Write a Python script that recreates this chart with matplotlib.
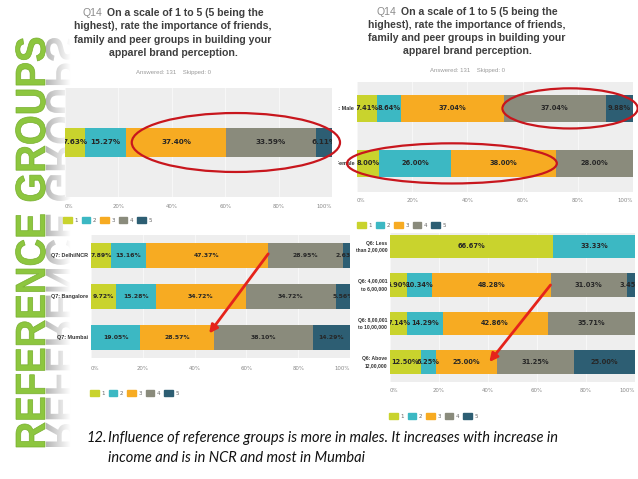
import numpy as np
import matplotlib
matplotlib.use('Agg')
import matplotlib.pyplot as plt
from matplotlib.patches import Ellipse, PathPatch, Rectangle
from matplotlib.textpath import TextPath
from matplotlib.font_manager import FontProperties
from matplotlib.transforms import Affine2D, Bbox, TransformedBbox

W, H = 638, 479

# answer levels and their colours
levels = ['1', '2', '3', '4', '5']
colors = ['#C9D32D', '#3CB8C3', '#F7AB22', '#8A8B7C', '#2D5E73']

# overall answers
overall_rows = ['']
overall_values = [[7.63, 15.27, 37.40, 33.59, 6.11]]

# by gender
gender_rows = ['Q1: Male', 'Q1: Female']
gender_values = [[7.41, 8.64, 37.04, 37.04, 9.88],
                 [8.00, 26.00, 38.00, 28.00, 0]]

# by city
city_rows = ['Q7: Delhi/NCR', 'Q7: Bangalore', 'Q7: Mumbai']
city_values = [[7.89, 13.16, 47.37, 28.95, 2.63],
               [9.72, 15.28, 34.72, 34.72, 5.56],
               [0, 19.05, 28.57, 38.10, 14.29]]

# by income
income_rows = ['Q6: Less\nthan 2,00,000', 'Q6: 4,00,001\nto 6,00,000',
               'Q6: 8,00,001\nto 10,00,000', 'Q6: Above\n12,00,000']
income_values = [[66.67, 33.33, 0, 0, 0],
                 [6.90, 10.34, 48.28, 31.03, 3.45],
                 [7.14, 14.29, 42.86, 35.71, 0],
                 [12.50, 6.25, 25.00, 31.25, 25.00]]

ticks = [0, 20, 40, 60, 80, 100]
question = 'Q14'
title_lines = ['On a scale of 1 to 5 (5 being the',
               'highest), rate the importance of friends,',
               'family and peer groups in building your',
               'apparel brand perception.']
answered = 'Answered: 131    Skipped: 0'
side_title = 'REFERENCE GROUPS'
caption_num = '12.'
caption_lines = ['Influence of reference groups is more in males. It increases with increase in',
                 'income and is in NCR and most in Mumbai']

ring = '#C8161D'
arrow_red = '#E5231B'

fig = plt.figure(figsize=(W / 100, H / 100), dpi=100)
renderer = fig.canvas.get_renderer()


def box(x0, y0, x1, y1):
    return [x0 / W, 1 - y1 / H, (x1 - x0) / W, (y1 - y0) / H]


# pixel-space layers: one under the charts, one over them
under = fig.add_axes([0, 0, 1, 1], zorder=-1)
over = fig.add_axes([0, 0, 1, 1], zorder=10)
for a in (under, over):
    a.set_xlim(0, W)
    a.set_ylim(H, 0)
    a.axis('off')
    a.patch.set_alpha(0)


def panel(rect, rows, values, bar_h, ylim, val_fs, row_fs, pad, row_clip=None):
    ax = fig.add_axes(box(*rect))
    ax.set_facecolor('#EEEEEE')
    vals = np.array(values, dtype=float)
    pos = np.arange(len(rows))
    left = np.zeros(len(rows))
    for k in range(len(levels)):
        ax.barh(pos, vals[:, k], left=left, height=bar_h, color=colors[k], zorder=2)
        for i in pos:
            v = vals[i, k]
            if v > 0:
                ax.text(left[i] + v / 2, i, f'{v:.2f}%', ha='center', va='center',
                        fontsize=val_fs, fontweight='bold', color='#262626',
                        zorder=3, clip_on=True, clip_box=ax.bbox)
        left += vals[:, k]
    ax.set_xlim(0, 100)
    ax.set_ylim(*ylim)
    ax.set_yticks([])
    ax.set_xticks(ticks, [f'{t}%' for t in ticks])
    ax.tick_params(length=0, pad=pad, labelsize=3.9, labelcolor='#888888')
    tl = ax.get_xticklabels()
    tl[0].set_ha('left')
    tl[-1].set_ha('right')
    ax.grid(axis='x', color='#F7F7F7', lw=0.8)
    ax.set_axisbelow(True)
    for s in ax.spines.values():
        s.set_visible(False)
    for i, name in zip(pos, rows):
        t = ax.annotate(name, xy=(0, i), xycoords=ax.get_yaxis_transform(),
                        xytext=(-2, 0), textcoords='offset points', ha='right',
                        va='center', fontsize=row_fs, fontweight='bold',
                        color='#333333', family='Liberation Sans', linespacing=1.4)
        if row_clip is not None:
            t.set_clip_on(True)
            t.set_clip_box(row_clip)
    return ax, np.cumsum(vals, axis=1)


def legend(ax, x, y):
    handles = [Rectangle((0, 0), 1, 1, color=c) for c in colors]
    ax.legend(handles, levels, loc='center left', bbox_to_anchor=(x, y),
              bbox_transform=over.transData, ncol=5, frameon=False, fontsize=4,
              labelcolor='#666666', handlelength=1.6, handleheight=1.2,
              handletextpad=0.4, columnspacing=0.7, borderpad=0, borderaxespad=0)


def title(xc, y0, step, fs):
    q = over.text(0, y0, question, fontsize=fs, color='#8C8C8C', va='center',
                  family='Liberation Sans')
    b = over.text(0, y0, title_lines[0], fontsize=fs, color='#3F3F3F', va='center',
                  fontweight='bold', family='Liberation Sans')
    wq = q.get_window_extent(renderer).width
    wb = b.get_window_extent(renderer).width
    gap = 4
    x0 = xc - (wq + gap + wb) / 2
    q.set_x(x0)
    b.set_x(x0 + wq + gap)
    for j, line in enumerate(title_lines[1:], start=1):
        over.text(xc, y0 + j * step, line, fontsize=fs, color='#3F3F3F', ha='center',
                  va='center', fontweight='bold', family='Liberation Sans')
    over.text(xc, y0 + 3 * step + 19, answered, fontsize=4.3, color='#9A9A9A',
              ha='center', va='center', family='Liberation Sans')


# top-left: overall
ax1, cum1 = panel((65, 88, 332, 197), overall_rows, overall_values, 0.6,
                  (-1.128, 1.128), 5.2, 3.8, 5.4)
legend(ax1, 63, 220)
ax1.add_patch(Ellipse((64, 0), 78, 1.22, fill=False, ec=ring, lw=1.6,
                      clip_on=False, zorder=6))
title(173, 13, 13.4, 7.6)

# top-right: gender
clip_tr = TransformedBbox(Bbox([[338 / W, 0], [1, 1]]), fig.transFigure)
ax2, cum2 = panel((357, 82, 633, 192), gender_rows, gender_values, 0.49,
                  (1.52, -0.48), 4.8, 4.0, 4.0, row_clip=clip_tr)
legend(ax2, 357, 225)
ax2.add_patch(Ellipse((77.2, 0), 49, 0.73, fill=False, ec=ring, lw=1.6,
                      clip_on=False, zorder=6))
ax2.add_patch(Ellipse((34.4, 1.0), 76, 0.73, fill=False, ec=ring, lw=1.6,
                      clip_on=False, zorder=6))
title(467, 12, 13.1, 7.6)

# bottom-left: city
ax3, cum3 = panel((91, 235, 350, 358), city_rows, city_values, 0.61,
                  (2.5, -0.5), 4.4, 3.9, 5.4)
legend(ax3, 90, 393)
ax3.annotate('', xy=(cum3[2, 2] - 2, 1.9), xytext=(cum3[0, 2], -0.04),
             arrowprops=dict(arrowstyle='-|>', color=arrow_red, lw=2,
                             mutation_scale=12, shrinkA=0, shrinkB=0),
             annotation_clip=False, zorder=6)

# bottom-right: income
ax4, cum4 = panel((390, 233, 635, 382), income_rows, income_values, 0.6,
                  (3.52, -0.35), 4.8, 3.6, 4.0)
legend(ax4, 389, 416)
ax4.annotate('', xy=(cum4[3, 2] - 3.2, 3.0), xytext=(cum4[1, 2], 1.0),
             arrowprops=dict(arrowstyle='-|>', color=arrow_red, lw=2,
                             mutation_scale=12, shrinkA=0, shrinkB=0),
             annotation_clip=False, zorder=6)

# vertical side title with mirrored grey reflection
rg_top, rg_bottom, rg_base, rg_cap = 38, 447, 45, 29
fp = FontProperties(family='Liberation Sans', weight='bold')
tp = TextPath((0, 0), side_title, size=40, prop=fp)
ext = tp.get_extents()
cap = TextPath((0, 0), 'E', size=40, prop=fp).get_extents().height
base = Affine2D().translate(-ext.x0, 0).scale((rg_bottom - rg_top) / ext.width, rg_cap / cap)
up = Affine2D(np.array([[0, -1, rg_base], [-1, 0, rg_bottom], [0, 0, 1.0]]))
down = Affine2D(np.array([[0, 1, rg_base + 1], [-1, 0, rg_bottom], [0, 0, 1.0]]))
refl = PathPatch(tp, transform=base + down + under.transData, fc='none', ec='none')
under.add_patch(refl)
grad = np.zeros((1, 64, 4))
grad[..., :3] = 0.6
grad[..., 3] = np.linspace(0.75, 0.0, 64)
img = under.imshow(grad, extent=(rg_base, rg_base + 26, rg_bottom + 5, rg_top - 5),
                   aspect='auto', interpolation='bilinear')
img.set_clip_path(refl)
under.add_patch(PathPatch(tp, transform=base + up + under.transData,
                          fc='#8DC63F', ec='#76AE2C', lw=0.5))
under.set_xlim(0, W)
under.set_ylim(H, 0)

# caption
cap_fs = 9
t0 = over.text(108, 438, caption_lines[0], fontsize=cap_fs, family='Lato', style='italic',
               color='#111111', va='center')
w0 = t0.get_window_extent(renderer).width
cap_fs = cap_fs * 449 / w0
t0.set_fontsize(cap_fs)
over.text(87, 438, caption_num, fontsize=cap_fs, family='Lato', style='italic',
          color='#111111', va='center')
over.text(108, 458, caption_lines[1], fontsize=cap_fs, family='Lato', style='italic',
          color='#111111', va='center')

fig.savefig('out.png', dpi=100)
